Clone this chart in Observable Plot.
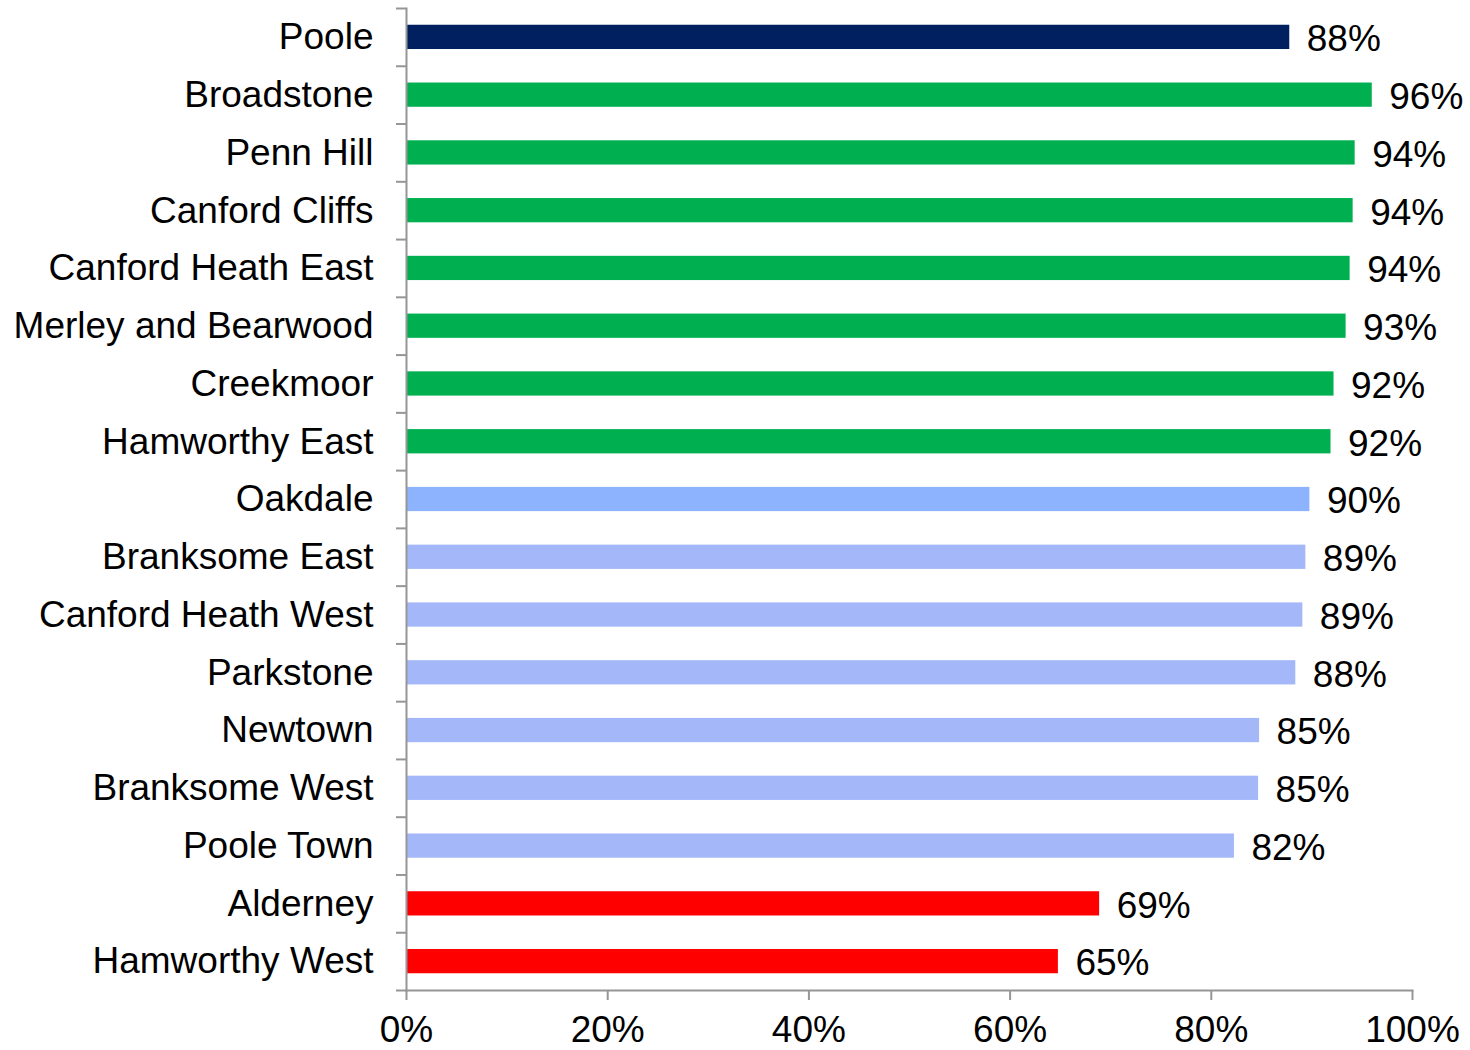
<!DOCTYPE html>
<html>
<head>
<meta charset="utf-8">
<script src="https://cdn.jsdelivr.net/npm/d3@7"></script>
<script src="https://cdn.jsdelivr.net/npm/@observablehq/plot@0.6"></script>
<style>
  html, body { margin: 0; padding: 0; background: #fff; }
  #chart svg { font-family: "Liberation Sans", Arial, sans-serif; }
</style>
</head>
<body>
<div id="chart"></div>
<script>
const areas = ["Poole", "Broadstone", "Penn Hill", "Canford Cliffs", "Canford Heath East",
  "Merley and Bearwood", "Creekmoor", "Hamworthy East", "Oakdale", "Branksome East",
  "Canford Heath West", "Parkstone", "Newtown", "Branksome West", "Poole Town",
  "Alderney", "Hamworthy West"];
const values = [0.878, 0.960, 0.943, 0.941, 0.938, 0.934, 0.922, 0.919, 0.898, 0.894,
  0.891, 0.884, 0.848, 0.847, 0.823, 0.689, 0.648];
const groups = ["Poole", "Higher", "Higher", "Higher", "Higher", "Higher", "Higher", "Higher",
  "SimilarA", "Similar", "Similar", "Similar", "Similar", "Similar", "Similar", "Lower", "Lower"];
const xTicks = [0, 0.2, 0.4, 0.6, 0.8, 1.0];

const groupNames = ["Poole", "Higher", "SimilarA", "Similar", "Lower"];
const groupColors = ["#002060", "#00B050", "#8DB3FF", "#A4B8F9", "#FF0000"];

const data = areas.map((a, i) => ({area: a, value: values[i], group: groups[i]}));

const W = 1470, H = 1050;
const mL = 406, mR = 58, mT = 8, mB = 60;
const step = (H - mT - mB) / areas.length;
const axisColor = "#969696";
const pct = d3.format(".0%");
const fs = 37;

const chart = Plot.plot({
  width: W,
  height: H,
  marginLeft: mL,
  marginRight: mR,
  marginTop: mT,
  marginBottom: mB,
  style: {fontFamily: "'Liberation Sans', Arial, sans-serif", fontSize: fs + "px", color: "#000", background: "#fff"},
  x: {domain: [0, 1]},
  y: {domain: areas, paddingInner: 0.58, paddingOuter: 0.29, round: false},
  color: {domain: groupNames, range: groupColors},
  marks: [
    Plot.barX(data, {x: "value", y: "area", fill: "group"}),
    Plot.text(data, {x: "value", y: "area", text: d => pct(d.value), textAnchor: "start", dx: 17, dy: 2, fontSize: fs, fill: "#000"}),
    // y axis line
    Plot.frame({anchor: "left", stroke: axisColor, strokeWidth: 2}),
    // x axis line
    Plot.frame({anchor: "bottom", stroke: axisColor, strokeWidth: 2}),
    // y axis tick marks at category boundaries
    Plot.axisY({tickSize: 10, text: null, dy: -step / 2, stroke: axisColor, strokeWidth: 2, label: null}),
    Plot.axisY({ticks: [areas[areas.length - 1]], tickSize: 10, text: null, dy: step / 2, stroke: axisColor, strokeWidth: 2, label: null}),
    // y labels
    Plot.axisY({tickSize: 0, tickPadding: 33, fontSize: fs, fill: "#000", label: null}),
    // x axis
    Plot.axisX({ticks: xTicks, tickFormat: pct, tickSize: 10, tickPadding: 15, stroke: axisColor, strokeWidth: 2, fontSize: fs, fill: "#000", label: null})
  ]
});

document.getElementById("chart").appendChild(chart);
</script>
</body>
</html>
